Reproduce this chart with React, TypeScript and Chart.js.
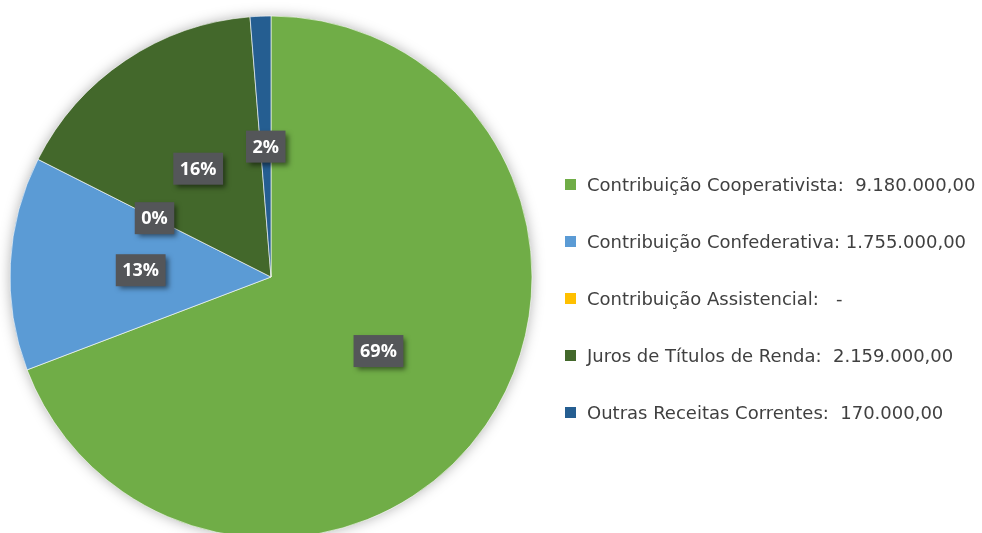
import React, { useEffect, useRef } from "react";
import { Chart, registerables } from "chart.js";

Chart.register(...registerables);

const categories = [
  "Contribuição Cooperativista:",
  "Contribuição Confederativa:",
  "Contribuição Assistencial:",
  "Juros de Títulos de Renda:",
  "Outras Receitas Correntes:",
];
const values = [9180000, 1755000, 0, 2159000, 170000];
const percentLabels = ["69%", "13%", "0%", "16%", "2%"];
const gaps = ["  ", " ", "   ", "  ", "  "];
const colors = ["#70AD47", "#5B9BD5", "#FFC000", "#43682B", "#255E91"];

function fmt(v: number): string {
  if (v === 0) return "-";
  const int = Math.floor(v).toString().replace(/\B(?=(\d{3})+(?!\d))/g, ".");
  const dec = Math.round((v - Math.floor(v)) * 100).toString().padStart(2, "0");
  return int + "," + dec;
}

const shadowPlugin = {
  id: "pieShadow",
  beforeDatasetsDraw(chart: any) {
    const meta = chart.getDatasetMeta(0);
    const a = meta.data[0];
    if (!a) return;
    const ctx = chart.ctx;
    ctx.save();
    ctx.shadowColor = "rgba(0,0,0,0.35)";
    ctx.shadowBlur = 14;
    ctx.shadowOffsetX = 0;
    ctx.shadowOffsetY = 0;
    ctx.fillStyle = "#ffffff";
    ctx.beginPath();
    ctx.arc(a.x, a.y, a.outerRadius - 1, 0, Math.PI * 2);
    ctx.fill();
    ctx.restore();
  },
};

const labelPlugin = {
  id: "boxLabels",
  afterDatasetsDraw(chart: any) {
    const meta = chart.getDatasetMeta(0);
    const ctx = chart.ctx;
    ctx.save();
    ctx.font = "700 18px 'Open Sans'";
    ctx.textAlign = "center";
    ctx.textBaseline = "middle";
    meta.data.forEach((arc: any, i: number) => {
      const mid = (arc.startAngle + arc.endAngle) / 2;
      const r = arc.outerRadius * 0.5;
      const x = arc.x + Math.cos(mid) * r;
      const y = arc.y + Math.sin(mid) * r;
      const text = percentLabels[i];
      const w = ctx.measureText(text).width + 13;
      const h = 32;
      ctx.save();
      ctx.shadowColor = "rgba(0,0,0,0.5)";
      ctx.shadowBlur = 5;
      ctx.shadowOffsetX = 3;
      ctx.shadowOffsetY = 3;
      ctx.fillStyle = "#545659";
      ctx.fillRect(x - w / 2, y - h / 2, w, h);
      ctx.restore();
      ctx.fillStyle = "#ffffff";
      ctx.fillText(text, x, y + 1);
    });
    ctx.restore();
  },
};

export default function App() {
  const ref = useRef<HTMLCanvasElement | null>(null);

  useEffect(() => {
    if (!ref.current) return;
    const chart = new Chart(ref.current, {
      type: "pie",
      data: {
        labels: categories,
        datasets: [
          {
            data: values,
            backgroundColor: colors,
            borderColor: "#ffffff",
            borderWidth: 0.6,
          },
        ],
      },
      options: {
        responsive: false,
        animation: false,
        radius: 261,
        layout: { padding: { left: 0, right: 440, top: 0, bottom: 0 } },
        plugins: {
          legend: { display: false },
          tooltip: { enabled: false },
        },
      } as any,
      plugins: [shadowPlugin, labelPlugin],
    });
    return () => chart.destroy();
  }, []);

  const rowTops = [184.5, 241.5, 298.5, 355.5, 412.5];

  return (
    <div
      style={{
        position: "fixed",
        left: 0,
        top: 0,
        width: 982,
        height: 533,
        overflow: "hidden",
        background: "#ffffff",
      }}
    >
      <canvas ref={ref} width={982} height={554} style={{ display: "block" }} />
      {categories.map((c, i) => (
        <div
          key={c}
          style={{
            position: "absolute",
            left: 565,
            top: rowTops[i] - 14,
            height: 28,
            display: "flex",
            alignItems: "center",
            fontFamily: "'DejaVu Sans', sans-serif",
            fontSize: 18,
            color: "#404040",
            whiteSpace: "pre",
          }}
        >
          <span
            style={{
              display: "inline-block",
              width: 11,
              height: 11,
              background: colors[i],
              marginRight: 11,
            }}
          />
          <span>{c + gaps[i] + fmt(values[i])}</span>
        </div>
      ))}
    </div>
  );
}
